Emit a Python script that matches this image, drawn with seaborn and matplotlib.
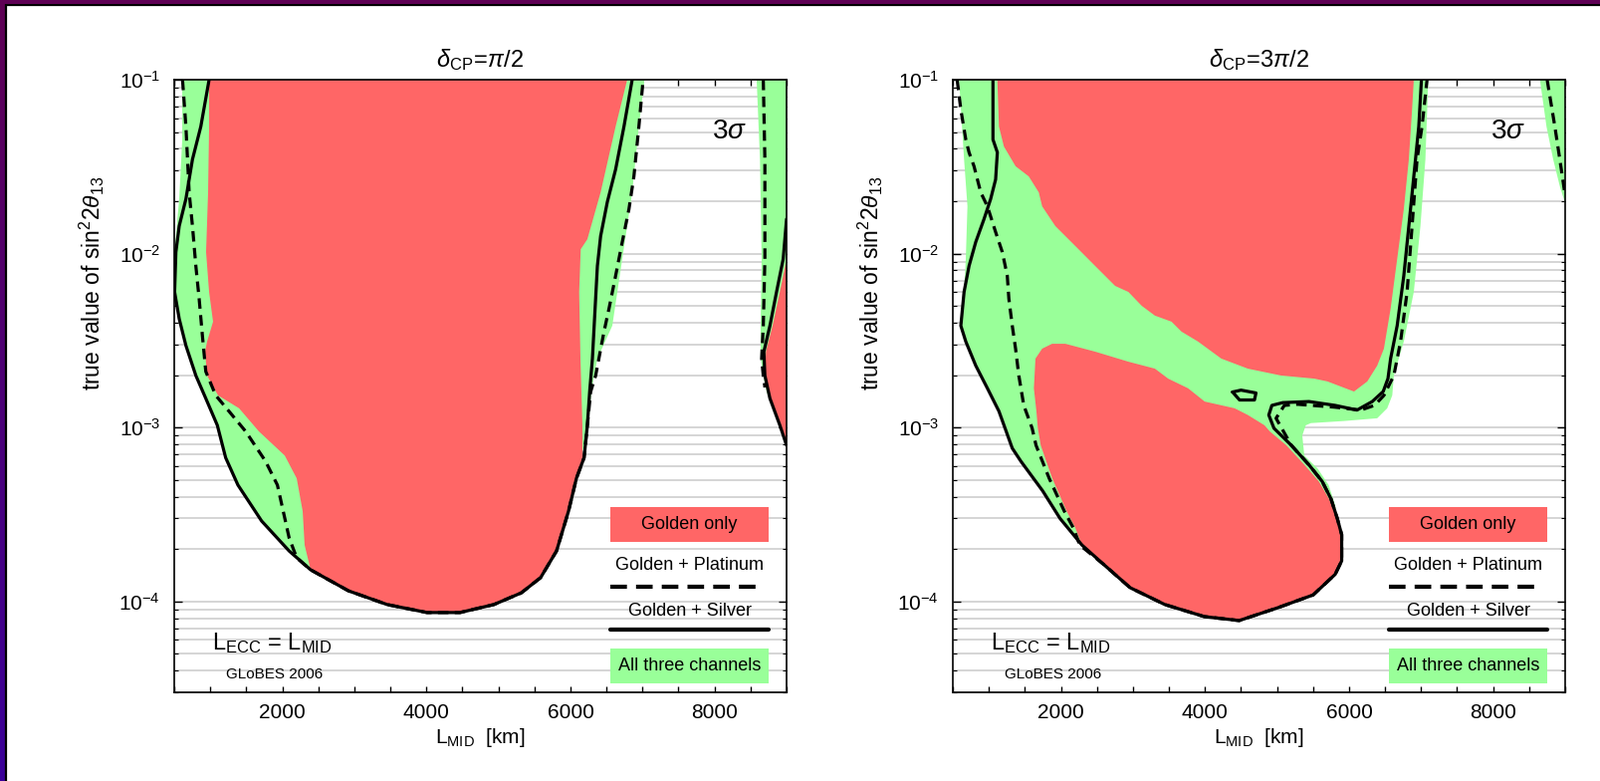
import numpy as np
import matplotlib
matplotlib.use("Agg")
import matplotlib.pyplot as plt
import seaborn as sns
from matplotlib.patches import Rectangle
from matplotlib.lines import Line2D
from matplotlib.ticker import MultipleLocator, LogLocator, NullFormatter

# ---- delta_CP = pi/2 (left panel) ----
p1_all_km = [611, 611, 569, 535, 505, 505, 569, 662, 800, 938, 1098, 1214, 1384, 1713, 2095, 2393,
             2919, 3457, 4010, 4466, 4936, 5318, 5586, 5807, 5973, 6083, 6250, 6290, 6374, 6581,
             6719, 6857, 6950, 7027]
p1_all_s2 = [0.1, 0.0453, 0.0206, 0.0144, 0.0102, 0.00602, 0.00422, 0.00296, 0.00199, 0.00147,
             0.00103, 0.00067, 0.000467, 0.00029, 0.000195, 0.000152, 0.000115, 0.0000959,
             0.0000863, 0.0000863, 0.0000959, 0.000112, 0.000137, 0.000195, 0.00033, 0.00051,
             0.00103, 0.00161, 0.00249, 0.00385, 0.0093, 0.0225, 0.0538, 0.1]

p1_gold_km = [984, 984, 970, 942, 984, 1039, 956, 928, 956, 1108, 1400, 1675, 2034, 2200, 2283,
              2310, 2393, 2919, 3457, 4010, 4466, 4936, 5318, 5586, 5807, 5973, 6083, 6166, 6166,
              6139, 6121, 6143, 6235, 6419, 6627, 6788]
p1_gold_s2 = [0.1, 0.0538, 0.0225, 0.0102, 0.00602, 0.00406, 0.00312, 0.00273, 0.00199, 0.00153,
              0.00129, 0.00095, 0.00069, 0.00051, 0.00033, 0.000211, 0.000152, 0.000115,
              0.0000959, 0.0000863, 0.0000863, 0.0000959, 0.000112, 0.000137, 0.000195, 0.00033,
              0.00051, 0.00067, 0.00103, 0.00249, 0.00602, 0.0106, 0.0121, 0.0225, 0.0538, 0.1]

p1_silver_km = [984, 869, 753, 662, 569, 523, 505, 569, 662, 800, 938, 1098, 1214, 1384, 1713, 2095,
                2393, 2919, 3457, 4010, 4466, 4936, 5318, 5586, 5807, 5973, 6083, 6189, 6235, 6267,
                6305, 6342, 6374, 6419, 6512, 6627, 6743, 6857]
p1_silver_s2 = [0.1, 0.0538, 0.0348, 0.0206, 0.0144, 0.0102, 0.00602, 0.00422, 0.00296, 0.00199,
                0.00147, 0.00103, 0.00067, 0.000467, 0.00029, 0.000195, 0.000152, 0.000115,
                0.0000959, 0.0000863, 0.0000863, 0.0000959, 0.000112, 0.000137, 0.000195, 0.00033,
                0.00051, 0.00067, 0.00103, 0.00161, 0.00249, 0.00482, 0.00849, 0.0126, 0.0198,
                0.0305, 0.0538, 0.1]

p1_plat_km = [615, 662, 707, 753, 800, 846, 891, 938, 1076, 1260, 1491, 1767, 1932, 2013, 2095, 2200,
              2393, 2919, 3457, 4010, 4466, 4936, 5318, 5586, 5807, 5973, 6083, 6189, 6235, 6281,
              6350, 6466, 6535, 6627, 6719, 6812, 6881, 6950, 7009]
p1_plat_s2 = [0.1, 0.0538, 0.0225, 0.0144, 0.00849, 0.00549, 0.00337, 0.0021, 0.00153, 0.00124,
              0.00095, 0.00064, 0.000467, 0.00033, 0.000232, 0.000178, 0.000152, 0.000115,
              0.0000959, 0.0000863, 0.0000863, 0.0000959, 0.000112, 0.000137, 0.000195, 0.00033,
              0.00051, 0.00067, 0.00103, 0.00161, 0.00199, 0.00356, 0.00482, 0.00745, 0.01164,
              0.018, 0.0278, 0.0538, 0.1]

# second island at the right edge
p1_edge_all_km = [8585, 8631, 8654, 8640, 8640, 8677, 8723, 8861, 9000, 9000]
p1_edge_all_s2 = [0.1, 0.0348, 0.0093, 0.00385, 0.00249, 0.00199, 0.00161, 0.00113, 0.00079, 0.1]
p1_edge_gold_km = [9000, 8907, 8806, 8713, 8699, 8769, 8907, 9000]
p1_edge_gold_s2 = [0.0093, 0.00602, 0.00385, 0.00273, 0.00199, 0.00147, 0.00103, 0.00079]
p1_edge_silver_km = [9000, 8953, 8861, 8769, 8685, 8699, 8769, 8907, 9000]
p1_edge_silver_s2 = [0.0158, 0.0093, 0.00602, 0.00385, 0.00273, 0.00199, 0.00147, 0.00103, 0.00079]
p1_edge_plat_km = [8677, 8699, 8699, 8677, 8654, 8677, 8700]
p1_edge_plat_s2 = [0.1, 0.0348, 0.0093, 0.00385, 0.00249, 0.00199, 0.0017]

# ---- delta_CP = 3pi/2 (right panel) ----
p2_all_km = [587, 656, 703, 680, 656, 611, 680, 818, 980, 1140, 1325, 1444, 1747, 1988, 2292, 2595,
             2960, 3444, 3990, 4475, 5019, 5503, 5807, 5898, 5898, 5837, 5807, 5717, 5565, 5379,
             5351, 5400, 5471, 5931, 6391, 6530, 6600, 6622, 6760, 6899, 6991, 7060, 7100]
p2_all_s2 = [0.1, 0.0348, 0.0187, 0.0093, 0.00602, 0.00385, 0.00312, 0.00227, 0.00168, 0.00124,
             0.00076, 0.00064, 0.000432, 0.0003, 0.000211, 0.000163, 0.00012, 0.0000959,
             0.0000818, 0.0000776, 0.0000922, 0.000109, 0.000143, 0.000171, 0.000242, 0.0003,
             0.000358, 0.000467, 0.00058, 0.00069, 0.0009, 0.00103, 0.00106, 0.00109, 0.00113,
             0.00129, 0.00153, 0.00199, 0.00312, 0.00602, 0.0144, 0.0348, 0.1]

p2_gold_top_km = [1118, 1140, 1209, 1371, 1554, 1693, 1740, 1923, 2200, 2476, 2753, 2937, 3122,
                  3305, 3536, 3674, 3904, 4227, 4595, 5056, 5517, 5701, 6069, 6253, 6391, 6484,
                  6577, 6668, 6760, 6830, 6875, 6899]
p2_gold_top_s2 = [0.1, 0.0538, 0.0413, 0.0318, 0.0278, 0.0225, 0.0187, 0.0144, 0.01106, 0.00849,
                  0.00652, 0.00602, 0.00501, 0.0044, 0.00406, 0.00356, 0.00312, 0.00249, 0.00218,
                  0.00199, 0.00191, 0.00184, 0.00161, 0.00184, 0.00227, 0.00284, 0.00482, 0.0093,
                  0.018, 0.0348, 0.0673, 0.1]

p2_gold_low_km = [1647, 1740, 1878, 2062, 2476, 2937, 3305, 3489, 3766, 3996, 4411, 4595, 4826,
                  4900, 5130, 5380, 5580, 5720, 5837, 5898, 5898, 5807, 5503, 5019, 4475, 3990,
                  3444, 2960, 2595, 2292, 2200, 2080, 1880, 1720, 1680, 1660, 1625]
p2_gold_low_s2 = [0.00249, 0.00284, 0.00303, 0.00303, 0.00273, 0.00239, 0.00218, 0.00191, 0.00168,
                  0.00141, 0.00129, 0.00118, 0.00103, 0.00095, 0.00079, 0.00061, 0.00049, 0.00039,
                  0.0003, 0.000242, 0.000171, 0.000143, 0.000109, 0.0000922, 0.0000776, 0.0000818,
                  0.0000959, 0.00012, 0.000163, 0.000211, 0.000265, 0.00033, 0.00051, 0.00079,
                  0.00099, 0.00124, 0.00168]

p2_silver_km = [1057, 1057, 1118, 1094, 1025, 933, 818, 725, 656, 611, 680, 818, 980, 1140, 1325,
                1444, 1747, 1988, 2292, 2595, 2960, 3444, 3990, 4475, 5019, 5503, 5807, 5898, 5898,
                5837, 5748, 5627, 5444, 5199, 4958, 4886, 4929, 5080, 5444, 5807, 6111, 6322, 6474,
                6540, 6577, 6668, 6760, 6830, 6899, 6968, 7005]
p2_silver_s2 = [0.1, 0.0453, 0.0382, 0.0267, 0.0206, 0.0158, 0.01165, 0.00849, 0.00602, 0.00385,
                0.00312, 0.00227, 0.00168, 0.00124, 0.00076, 0.00064, 0.000432, 0.0003, 0.000211,
                0.000163, 0.00012, 0.0000959, 0.0000818, 0.0000776, 0.0000922, 0.000109, 0.000143,
                0.000171, 0.000242, 0.0003, 0.00039, 0.00049, 0.00061, 0.00079, 0.00099, 0.00118,
                0.00134, 0.00139, 0.00141, 0.00134, 0.00126, 0.00141, 0.00161, 0.00191, 0.00249,
                0.00385, 0.00745, 0.0144, 0.0278, 0.0538, 0.1]

p2_loop_km = [4383, 4501, 4708, 4687, 4480, 4383]
p2_loop_s2 = [0.0016, 0.00164, 0.00158, 0.00144, 0.00144, 0.0016]

p2_plat_km = [560, 611, 680, 725, 794, 887, 980, 1094, 1187, 1256, 1278, 1325, 1371, 1416, 1485,
              1601, 1655, 1838, 2048, 2172, 2262, 2595, 2960, 3444, 3990, 4475, 5019, 5503, 5807,
              5898, 5898, 5837, 5748, 5627, 5444, 5199, 4987, 5102, 5286, 5793, 6162, 6353, 6484,
              6622, 6715, 6806, 6875, 6944, 7013, 7083]
p2_plat_s2 = [0.1, 0.0673, 0.0453, 0.0382, 0.0318, 0.0225, 0.0187, 0.0133, 0.0102, 0.00745,
              0.00549, 0.00385, 0.00284, 0.00199, 0.00134, 0.00099, 0.00079, 0.00051, 0.00033,
              0.000265, 0.000211, 0.000163, 0.00012, 0.0000959, 0.0000818, 0.0000776, 0.0000922,
              0.000109, 0.000143, 0.000171, 0.000242, 0.0003, 0.00039, 0.00049, 0.00061, 0.00079,
              0.00113, 0.00134, 0.00136, 0.00131, 0.00126, 0.00134, 0.00153, 0.00199, 0.00312,
              0.00602, 0.0144, 0.0348, 0.0538, 0.1]

p2_edge_all_km = [8650, 8741, 8834, 8926, 8995, 9000, 9000]
p2_edge_all_s2 = [0.1, 0.0538, 0.0348, 0.0244, 0.0198, 0.0198, 0.1]
p2_edge_plat_km = [8750, 8857, 8926, 8981, 9000]
p2_edge_plat_s2 = [0.1, 0.0538, 0.0348, 0.0244, 0.0215]

titles = [r"$\delta_{\mathrm{CP}}\!=\!\pi/2$", r"$\delta_{\mathrm{CP}}\!=\!3\pi/2$"]
legend_labels = ["Golden only", "Golden + Platinum", "Golden + Silver", "All three channels"]

RED = "#ff6666"
GREEN = "#99ff99"

sns.set_style("white")
plt.rcParams['font.family'] = ['Liberation Sans', 'DejaVu Sans']
plt.rcParams['mathtext.fontset'] = 'custom'
plt.rcParams['mathtext.rm'] = 'Liberation Sans'
plt.rcParams['mathtext.it'] = 'Liberation Sans:italic'
plt.rcParams['mathtext.bf'] = 'Liberation Sans:bold'
for k in ['text.color', 'axes.labelcolor', 'xtick.color', 'ytick.color', 'axes.edgecolor']:
    plt.rcParams[k] = 'black'

fig = plt.figure(figsize=(16.07, 7.84), dpi=100)
ax1 = fig.add_axes([175 / 1607, 89 / 784, 615 / 1607, 615 / 784])
ax2 = fig.add_axes([957 / 1607, 89 / 784, 615 / 1607, 615 / 784])


def line(ax, km, s2, dashed=False):
    ls = (0, (3.3, 2.0)) if dashed else '-'
    sns.lineplot(x=km, y=s2, sort=False, estimator=None, color='black', lw=2.3,
                 linestyle=ls, ax=ax, zorder=4)


def setup(ax, title):
    ax.set_yscale('log')
    ax.set_xlim(500, 9000)
    ax.set_ylim(3e-5, 0.1)
    ax.xaxis.set_major_locator(MultipleLocator(2000))
    ax.xaxis.set_minor_locator(MultipleLocator(500))
    ax.yaxis.set_major_locator(LogLocator(base=10, numticks=12))
    ax.yaxis.set_minor_locator(LogLocator(base=10, subs=np.arange(2, 10), numticks=40))
    ax.yaxis.set_minor_formatter(NullFormatter())
    ax.tick_params(which='both', direction='in', top=True, right=True, bottom=True, left=True)
    ax.tick_params(axis='x', which='both', length=4.5, width=1)
    ax.tick_params(axis='x', which='major', pad=8, labelsize=15)
    ax.tick_params(axis='y', which='major', length=6, width=1, pad=10, labelsize=15)
    ax.tick_params(axis='y', which='minor', length=3, width=0.8)
    for s in ax.spines.values():
        s.set_color('black')
        s.set_linewidth(1.2)
        s.set_zorder(6)
    # horizontal guide lines at every decade subdivision, under the regions
    lo, hi = ax.get_ylim()
    for v in list(ax.yaxis.get_majorticklocs()) + list(ax.yaxis.get_minorticklocs()):
        if lo < v < hi:
            ax.axhline(v, color='#d2d2d2', lw=1.3, zorder=0)
    ax.set_title(title, fontsize=17, pad=9)
    ax.set_xlabel(r"$\mathrm{L}_{\mathrm{MID}}$  [km]", fontsize=15, labelpad=3)
    ax.set_ylabel(r"true value of sin$^2$2$\theta_{13}$", fontsize=16.5)
    ax.yaxis.set_label_coords(-0.11, 0.668)
    ax.text(0.906, 0.915, r"$3\sigma$", fontsize=20, ha='center', va='center',
            transform=ax.transAxes, zorder=6)
    ax.text(0.16, 0.080, r"$\mathrm{L}_{\mathrm{ECC}}$ = $\mathrm{L}_{\mathrm{MID}}$",
            fontsize=17, ha='center', va='center', transform=ax.transAxes, zorder=6)
    ax.text(0.164, 0.029, "GLoBES 2006", fontsize=11, ha='center', va='center',
            transform=ax.transAxes, zorder=6)
    # legend block
    x0, w = 0.712, 0.259
    ax.add_patch(Rectangle((x0, 0.2455), w, 0.0565, transform=ax.transAxes,
                           facecolor=RED, lw=0, zorder=7))
    ax.text(x0 + w / 2, 0.274, legend_labels[0], fontsize=13, ha='center', va='center',
            transform=ax.transAxes, zorder=8)
    ax.text(x0 + w / 2, 0.208, legend_labels[1], fontsize=13, ha='center', va='center',
            transform=ax.transAxes, zorder=8)
    ax.add_line(Line2D([x0, 0.953], [0.172, 0.172], transform=ax.transAxes, color='black',
                       lw=3, linestyle=(0, (4.0, 2.2)), zorder=8))
    ax.text(x0 + w / 2, 0.133, legend_labels[2], fontsize=13, ha='center', va='center',
            transform=ax.transAxes, zorder=8)
    ax.add_line(Line2D([x0, x0 + w], [0.1025, 0.1025], transform=ax.transAxes, color='black',
                       lw=3, zorder=8))
    ax.add_patch(Rectangle((x0, 0.0146), w, 0.0569, transform=ax.transAxes,
                           facecolor=GREEN, lw=0, zorder=7))
    ax.text(x0 + w / 2, 0.043, legend_labels[3], fontsize=13, ha='center', va='center',
            transform=ax.transAxes, zorder=8)


for ax in [ax1, ax2]:
    ax.set_yscale('log')

# left panel
ax1.fill(p1_all_km, p1_all_s2, color=GREEN, lw=0, zorder=1)
ax1.fill(p1_edge_all_km, p1_edge_all_s2, color=GREEN, lw=0, zorder=1)
ax1.fill(p1_gold_km, p1_gold_s2, color=RED, lw=0, zorder=2)
ax1.fill(p1_edge_gold_km, p1_edge_gold_s2, color=RED, lw=0, zorder=2)
line(ax1, p1_silver_km, p1_silver_s2)
line(ax1, p1_plat_km, p1_plat_s2, dashed=True)
line(ax1, p1_edge_silver_km, p1_edge_silver_s2)
line(ax1, p1_edge_plat_km, p1_edge_plat_s2, dashed=True)

# right panel
ax2.fill(p2_all_km, p2_all_s2, color=GREEN, lw=0, zorder=1)
ax2.fill(p2_edge_all_km, p2_edge_all_s2, color=GREEN, lw=0, zorder=1)
ax2.fill(p2_gold_top_km, p2_gold_top_s2, color=RED, lw=0, zorder=2)
ax2.fill(p2_gold_low_km, p2_gold_low_s2, color=RED, lw=0, zorder=2)
line(ax2, p2_silver_km, p2_silver_s2)
line(ax2, p2_loop_km, p2_loop_s2)
line(ax2, p2_plat_km, p2_plat_s2, dashed=True)
line(ax2, p2_edge_plat_km, p2_edge_plat_s2, dashed=True)

for ax, t in zip([ax1, ax2], titles):
    setup(ax, t)

# slide frame: purple band on top and left with a thin black rule
grad = np.linspace(0, 1, 256)[:, None]
cols = np.array([[0.37, 0.0, 0.33]]) * (1 - grad[:, :, None]) + np.array([[0.23, 0.0, 0.6]]) * grad[:, :, None]
bar = fig.add_axes([0, 0, 5 / 1607, 1])
bar.imshow(cols, aspect='auto')
bar.axis('off')
fig.patches.append(Rectangle((0, 1 - 3.5 / 784), 1, 3.5 / 784, transform=fig.transFigure,
                             facecolor='#5e0054', lw=0, zorder=3))
fig.add_artist(Line2D([6 / 1607, 6 / 1607], [0, 1 - 4 / 784], transform=fig.transFigure,
                      color='black', lw=1.6))
fig.add_artist(Line2D([6 / 1607, 1], [1 - 4.5 / 784, 1 - 4.5 / 784], transform=fig.transFigure,
                      color='black', lw=1.6))

fig.savefig("out.png", dpi=100)
